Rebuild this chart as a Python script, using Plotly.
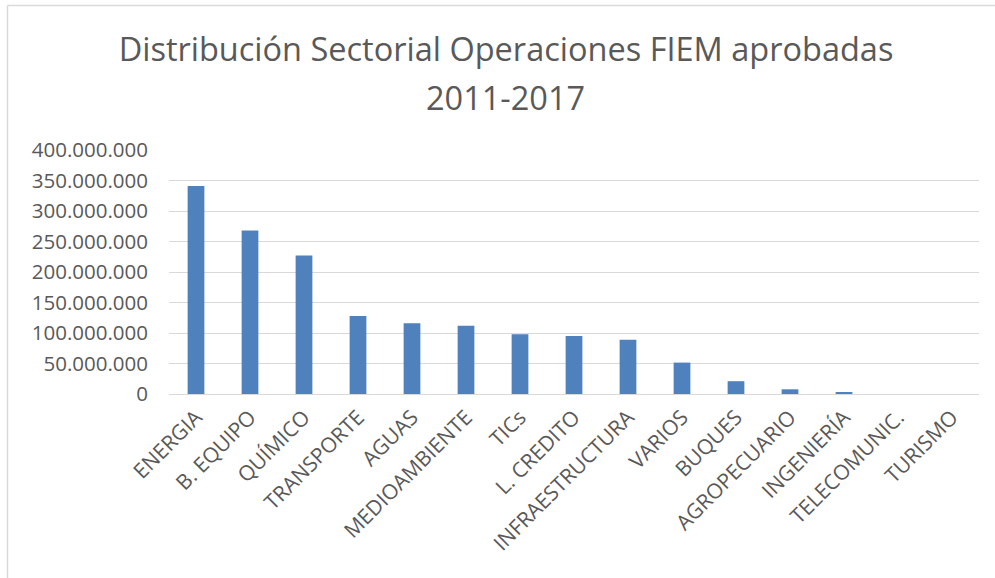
import plotly.graph_objects as go

categories = ["ENERGIA", "B. EQUIPO", "QUÍMICO", "TRANSPORTE", "AGUAS", "MEDIOAMBIENTE",
              "TICs", "L. CREDITO", "INFRAESTRUCTURA", "VARIOS", "BUQUES", "AGROPECUARIO",
              "INGENIERÍA", "TELECOMUNIC.", "TURISMO"]
values = [341_000_000, 268_000_000, 227_000_000, 128_000_000, 116_000_000, 112_000_000,
          98_000_000, 95_000_000, 89_000_000, 51_500_000, 21_000_000, 7_700_000,
          3_300_000, 0, 0]
y_ticks = [0, 50_000_000, 100_000_000, 150_000_000, 200_000_000, 250_000_000,
           300_000_000, 350_000_000, 400_000_000]
title_line1 = "Distribución Sectorial Operaciones FIEM aprobadas"
title_line2 = "2011-2017"

W, H = 995, 578
L, R, T, B = 169, 16, 150, 184
pw, ph = W - L - R, H - T - B

fig = go.Figure(go.Bar(x=categories, y=values, marker=dict(color="#4F81BD", line=dict(width=0))))

fig.update_layout(
    width=W, height=H,
    margin=dict(l=L, r=R, t=T, b=B, autoexpand=False),
    paper_bgcolor="white", plot_bgcolor="white",
    separators=",.",
    bargap=0.69,
    showlegend=False,
    title=dict(text=title_line1, x=506 / W, xanchor="center", y=1 - 50 / H, yanchor="middle",
               yref="container",
               font=dict(family="Open Sans", size=32.5, color="#595959")),
    font=dict(family="Open Sans", color="#595959"),
    xaxis=dict(tickangle=-45, tickfont=dict(size=21, color="#595959"), showgrid=False,
               showline=False, ticks="", ticklabelstandoff=6),
    yaxis=dict(range=[0, 400_000_000], tickvals=y_ticks, tickformat=",d",
               tickfont=dict(size=20.5, color="#595959"), showgrid=True, gridcolor="#D9D9D9",
               gridwidth=1, zeroline=True, zerolinecolor="#D9D9D9", zerolinewidth=1,
               showline=False, ticks="", ticklabelstandoff=20),
)

fig.add_annotation(text=title_line2, xref="paper", yref="paper",
                   x=(505 - L) / pw, y=(H - B - 97) / ph, xanchor="center", yanchor="middle",
                   showarrow=False, font=dict(family="Open Sans", size=32.5, color="#595959"))

# chart-area border (left and top edges visible in the reference)
x_left = (7.5 - L) / pw
x_right = (W - L) / pw
y_top = (H - B - 5.5) / ph
y_bot = -B / ph
fig.add_shape(type="line", xref="paper", yref="paper", x0=x_left, x1=x_left, y0=y_bot, y1=y_top,
              line=dict(color="#D9D9D9", width=1.5))
fig.add_shape(type="line", xref="paper", yref="paper", x0=x_left, x1=x_right, y0=y_top, y1=y_top,
              line=dict(color="#D9D9D9", width=1.5))

fig.write_html("out.html", config={"displayModeBar": False},
               post_script="document.body.style.margin='0px';")
